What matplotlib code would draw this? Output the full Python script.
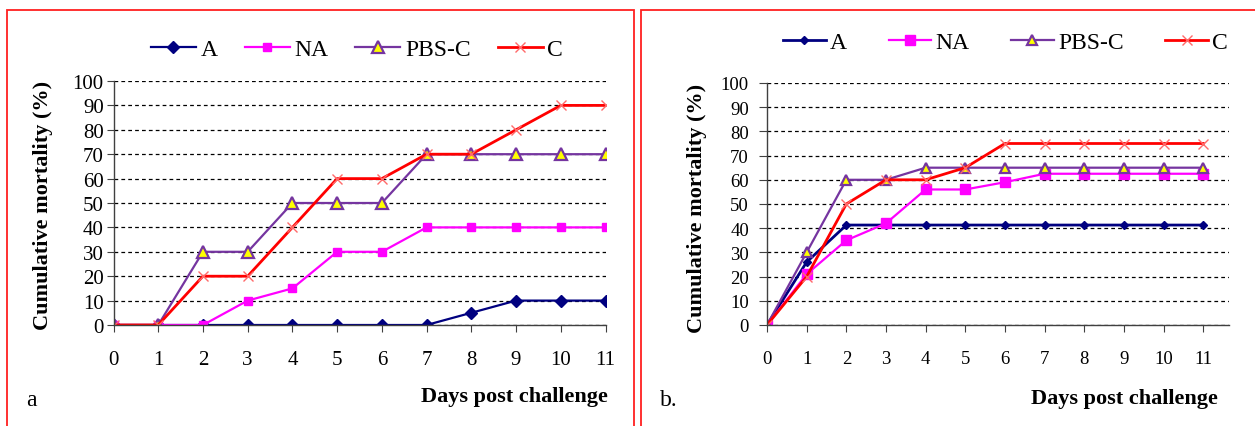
import matplotlib
matplotlib.use("Agg")
import matplotlib.pyplot as plt
from matplotlib.patches import Rectangle

plt.rcParams['font.family'] = ['Liberation Serif', 'DejaVu Serif']

W, H = 1255, 427

days = list(range(12))
groups = ['A', 'NA', 'PBS-C', 'C']

# panel a
a_A = [0, 0, 0, 0, 0, 0, 0, 0, 5, 10, 10, 10]
a_NA = [0, 0, 0, 10, 15, 30, 30, 40, 40, 40, 40, 40]
a_PBS = [0, 0, 30, 30, 50, 50, 50, 70, 70, 70, 70, 70]
a_C = [0, 0, 20, 20, 40, 60, 60, 70, 70, 80, 90, 90]

# panel b
b_A = [0, 26, 41.3, 41.3, 41.3, 41.3, 41.3, 41.3, 41.3, 41.3, 41.3, 41.3]
b_NA = [0, 21, 35, 42, 56, 56, 59, 62.5, 62.5, 62.5, 62.5, 62.5]
b_PBS = [0, 30, 60, 60, 65, 65, 65, 65, 65, 65, 65, 65]
b_C = [0, 20, 50, 60, 60, 65, 75, 75, 75, 75, 75, 75]

yticks = list(range(0, 101, 10))


def fx(x):
    return x / W


def fy(y):
    return 1 - y / H


def box(x0, x1, y0, y1):
    return [fx(x0), fy(y1), fx(x1) - fx(x0), fy(y0) - fy(y1)]


fig = plt.figure(figsize=(W / 100, H / 100), dpi=100)

# red frames round each panel
fig.add_artist(Rectangle((fx(7), fy(440)), fx(634) - fx(7), fy(11) - fy(440),
                         transform=fig.transFigure, fill=False, ec='#ff2020', lw=1.3))
fig.add_artist(Rectangle((fx(641), fy(440)), fx(1270) - fx(641), fy(11) - fy(440),
                         transform=fig.transFigure, fill=False, ec='#ff2020', lw=1.3))


def draw_panel(ax, A, NA, PBS, C, small, xmax, tick_fs, ylen, ypad):
    ax.plot(days, A, color='#000080', lw=1.6 if not small else 2,
            marker='D', ms=6.5 if not small else 4.5, label='A')
    ax.plot(days, NA, color='#ff00ff', lw=1.6,
            marker='s', ms=6 if not small else 7, label='NA')
    ax.plot(days, PBS, color='#7535a0', lw=1.6, marker='^',
            ms=8 if not small else 6.5, mfc='#ffff00', mec='#7535a0', mew=1.6,
            label='PBS-C')
    ax.plot(days, C, color='#ff0000', lw=2, marker='x',
            ms=7, mec='#ff6a6a', mew=1, label='C')

    ax.set_xlim(0, xmax)
    ax.set_ylim(0, 100)
    ax.set_xticks(days)
    ax.set_yticks(yticks)
    ax.yaxis.grid(True, ls=(0, (3, 2.5)), color='black', lw=0.9)
    ax.set_axisbelow(True)
    for s in ['top', 'right']:
        ax.spines[s].set_visible(False)
    for s in ['left', 'bottom']:
        ax.spines[s].set_color('#404040')
        ax.spines[s].set_linewidth(1)
    ax.tick_params(axis='x', direction='out', length=5, pad=13,
                   labelsize=tick_fs, color='#404040')
    ax.tick_params(axis='y', direction='out', length=ylen, pad=ypad,
                   labelsize=tick_fs, color='#404040')
    ax.set_facecolor('none')


ax1 = fig.add_axes(box(113.5, 605.5, 82, 326))
draw_panel(ax1, a_A, a_NA, a_PBS, a_C, False, 11, 15, 5, 2)
ax2 = fig.add_axes(box(767, 1229, 84, 326))
draw_panel(ax2, b_A, b_NA, b_PBS, b_C, True, 11.65, 13.5, 6, 7)

ax1.legend(ncol=4, loc='center left', bbox_to_anchor=(fx(151), fy(50)),
           bbox_transform=fig.transFigure, frameon=False, fontsize=17,
           handlelength=1.9, handletextpad=0.2, columnspacing=1.15,
           borderpad=0, borderaxespad=0)
ax2.legend(ncol=4, loc='center left', bbox_to_anchor=(fx(783), fy(43)),
           bbox_transform=fig.transFigure, frameon=False, fontsize=17,
           handlelength=1.8, handletextpad=0.2, columnspacing=1.75,
           borderpad=0, borderaxespad=0)

fig.text(fx(43), fy(205), 'Cumulative mortality (%)', rotation=90,
         ha='center', va='center', fontsize=16, fontweight='bold')
fig.text(fx(697), fy(208), 'Cumulative mortality (%)', rotation=90,
         ha='center', va='center', fontsize=16, fontweight='bold')

fig.text(fx(608), fy(397), 'Days post challenge', ha='right', va='center',
         fontsize=16, fontweight='bold')
fig.text(fx(1218), fy(399), 'Days post challenge', ha='right', va='center',
         fontsize=16, fontweight='bold')

fig.text(fx(26), fy(401), 'a', ha='left', va='center', fontsize=17)
fig.text(fx(660), fy(401), 'b.', ha='left', va='center', fontsize=17)

fig.savefig('out.png', dpi=100, facecolor='white')
